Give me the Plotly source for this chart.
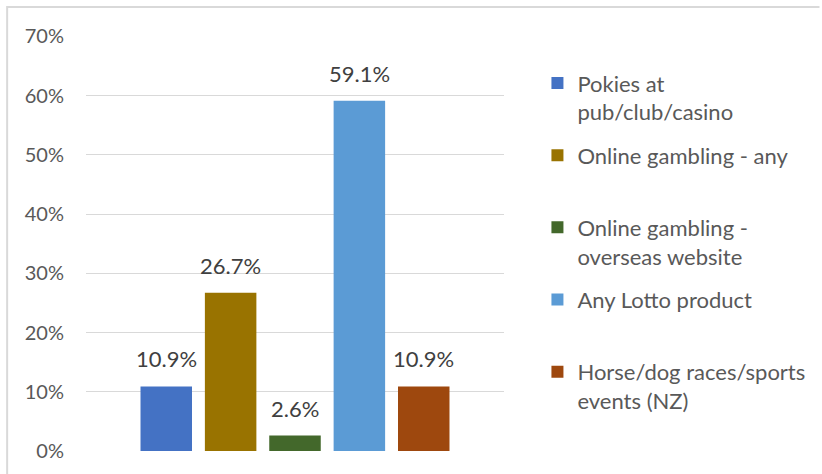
import plotly.graph_objects as go

series_names = [
    "Pokies at<br>pub/club/casino",
    "Online gambling - any<br> ",
    "Online gambling -<br>overseas website",
    "Any Lotto product<br> ",
    "Horse/dog races/sports<br>events (NZ)",
]
values = [0.109, 0.267, 0.026, 0.591, 0.109]
colors = ["#4472C4", "#997300", "#43682B", "#5B9BD5", "#9E480E"]
y_ticks = [0, 0.1, 0.2, 0.3, 0.4, 0.5, 0.6, 0.7]

FONT = "Lato"
bargap = 0.23
n = len(values)

fig = go.Figure()
for i, (name, v, c) in enumerate(zip(series_names, values, colors)):
    fig.add_trace(go.Bar(
        x=[0], y=[v], name=name, marker=dict(color=c, line=dict(width=0)),
        legendgroup=f"g{i}", hoverinfo="skip",
    ))

slot = (1 - bargap) / n
annotations = []
for i, v in enumerate(values):
    xc = -(1 - bargap) / 2 + slot * (i + 0.5)
    annotations.append(dict(
        x=xc, y=v, xref="x", yref="y", text=f"{v*100:.1f}%",
        showarrow=False, yanchor="bottom", yshift=12,
        font=dict(family=FONT, size=22, color="#404040"),
    ))

fig.update_layout(
    width=822, height=474,
    margin=dict(l=86, r=312, t=36, b=23),
    paper_bgcolor="white", plot_bgcolor="white",
    barmode="group", bargap=bargap, bargroupgap=0.2,
    font=dict(family=FONT, size=20, color="#595959"),
    xaxis=dict(range=[-0.5, 0.5], showticklabels=False, showgrid=False,
               zeroline=False, showline=False, fixedrange=True),
    yaxis=dict(range=[0, 0.7005], tickvals=y_ticks, tickformat=".0%",
               showgrid=True, gridcolor="#D9D9D9", gridwidth=1,
               zeroline=False, showline=False, ticks="",
               ticklabelstandoff=21,
               tickfont=dict(family=FONT, size=20, color="#595959")),
    legend=dict(x=1.08, y=0.937, xanchor="left", yanchor="top",
                valign="top", tracegroupgap=12, itemwidth=30,
                font=dict(family=FONT, size=22, color="#595959"),
                bgcolor="rgba(0,0,0,0)"),
    annotations=annotations,
    shapes=[
        dict(type="line", xref="paper", yref="paper",
             x0=(6 - 86) / 424, x1=(830 - 86) / 424,
             y0=1 + (36 - 7) / 415, y1=1 + (36 - 7) / 415,
             line=dict(color="#D9D9D9", width=2)),
        dict(type="line", xref="paper", yref="paper",
             x0=(6 - 86) / 424, x1=(6 - 86) / 424,
             y0=1 + (36 - 6) / 415, y1=1 + (36 - 480) / 415,
             line=dict(color="#D9D9D9", width=2)),
    ],
)

fig.write_html(
    "out.html",
    config={"displayModeBar": False},
    post_script="document.body.style.margin='0';document.body.style.padding='0';",
)
